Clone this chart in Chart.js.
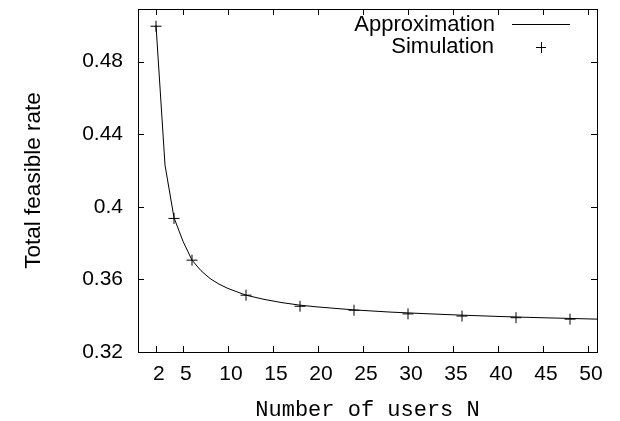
<!DOCTYPE html>
<html>
<head>
<meta charset="utf-8">
<script src="https://cdn.jsdelivr.net/npm/chart.js@4/dist/chart.umd.min.js"></script>
<style>
  html, body { margin: 0; padding: 0; background: #fff; }
  #wrap { width: 620px; height: 421px; }
</style>
</head>
<body>
<div id="wrap"><canvas id="rateChart" width="620" height="421"></canvas></div>
<script>
// values
const approxUsers = [2, 3, 4, 5, 6, 7, 8, 9, 10, 12, 14, 16, 18, 20, 24, 28, 32, 36, 40, 44, 48, 51];
const approxRate = [0.500, 0.423, 0.394, 0.381, 0.3706, 0.3648, 0.3605, 0.3574, 0.355, 0.3513, 0.349, 0.3472,
  0.3458, 0.3448, 0.3432, 0.342, 0.3411, 0.3403, 0.3396, 0.339, 0.3385, 0.3381];

const simUsers = [2, 4, 6, 12, 18, 24, 30, 36, 42, 48];
const simRate = [0.4995, 0.3936, 0.3706, 0.3513, 0.3452, 0.343, 0.341, 0.3398, 0.3389, 0.3381];

const xTicks = [2, 5, 10, 15, 20, 25, 30, 35, 40, 45, 50];
const yTicks = [0.32, 0.36, 0.4, 0.44, 0.48];

const SANS = "'Liberation Sans', Arial, Helvetica, sans-serif";
const MONO = "'Liberation Mono', 'Courier New', monospace";
const TICK_LEN = 6;

// frame + inward tick marks on all four sides, gnuplot style
const framePlugin = {
  id: "frame",
  afterDatasetsDraw(chart) {
    const { ctx, chartArea: a, scales } = chart;
    ctx.save();
    ctx.strokeStyle = "#000";
    ctx.lineWidth = 1;
    ctx.strokeRect(Math.round(a.left) + 0.5, Math.round(a.top) + 0.5,
      Math.round(a.right - a.left), Math.round(a.bottom - a.top));
    ctx.beginPath();
    xTicks.forEach((v) => {
      const px = Math.round(scales.x.getPixelForValue(v)) + 0.5;
      ctx.moveTo(px, a.bottom);
      ctx.lineTo(px, a.bottom - TICK_LEN);
      ctx.moveTo(px, a.top);
      ctx.lineTo(px, a.top + TICK_LEN);
    });
    yTicks.forEach((v) => {
      const py = Math.round(scales.y.getPixelForValue(v)) + 0.5;
      ctx.moveTo(a.left, py);
      ctx.lineTo(a.left + TICK_LEN, py);
      ctx.moveTo(a.right, py);
      ctx.lineTo(a.right - TICK_LEN, py);
    });
    ctx.stroke();
    ctx.restore();
  }
};

// legend at top right: right-aligned text, sample to its right
const keyPlugin = {
  id: "key",
  afterDraw(chart) {
    const { ctx } = chart;
    const ds = chart.data.datasets;
    ctx.save();
    ctx.font = "22px " + SANS;
    ctx.fillStyle = "#000";
    ctx.textAlign = "right";
    ctx.textBaseline = "middle";
    ctx.strokeStyle = "#000";
    ctx.lineWidth = 1;

    ctx.fillText(ds[0].label, 495, 25);
    ctx.beginPath();
    ctx.moveTo(512, 24.5);
    ctx.lineTo(570, 24.5);
    ctx.stroke();

    ctx.fillText(ds[1].label, 494, 47);
    ctx.beginPath();
    ctx.moveTo(536, 47.5);
    ctx.lineTo(546, 47.5);
    ctx.moveTo(541.5, 42);
    ctx.lineTo(541.5, 53);
    ctx.stroke();
    ctx.restore();
  }
};

new Chart(document.getElementById("rateChart"), {
  type: "line",
  data: {
    datasets: [
      {
        label: "Approximation",
        data: approxUsers.map((n, i) => ({ x: n, y: approxRate[i] })),
        borderColor: "#000",
        borderWidth: 1,
        pointRadius: 0,
        tension: 0,
        fill: false
      },
      {
        label: "Simulation",
        data: simUsers.map((n, i) => ({ x: n, y: simRate[i] })),
        showLine: false,
        pointStyle: "cross",
        pointRadius: 5.5,
        pointBorderColor: "#000",
        pointBorderWidth: 1,
        borderColor: "#000"
      }
    ]
  },
  options: {
    responsive: false,
    animation: false,
    devicePixelRatio: 1,
    layout: { padding: { top: 9, right: 23, left: 0, bottom: 0 } },
    plugins: {
      legend: { display: false },
      tooltip: { enabled: false }
    },
    scales: {
      x: {
        type: "linear",
        min: 0,
        max: 51,
        afterBuildTicks: (s) => { s.ticks = xTicks.map((v) => ({ value: v })); },
        afterFit: (s) => { s.height = 69; s.paddingLeft = 0; s.paddingRight = 0; },
        grid: { display: false, drawTicks: false },
        border: { display: false },
        ticks: {
          color: "#000",
          padding: 10,
          maxRotation: 0,
          autoSkip: false,
          font: { family: SANS, size: 21 },
          // labels sit a little right of their ticks in the original
          callback: (v) => " " + v
        },
        title: {
          display: true,
          text: "Number of users N",
          color: "#000",
          padding: { top: 0, bottom: -2 },
          font: { family: MONO, size: 22 }
        }
      },
      y: {
        min: 0.32,
        max: 0.509,
        afterBuildTicks: (s) => { s.ticks = yTicks.map((v) => ({ value: v })); },
        afterFit: (s) => { s.width = 138; s.paddingTop = 0; s.paddingBottom = 0; },
        grid: { display: false, drawTicks: false },
        border: { display: false },
        ticks: {
          color: "#000",
          padding: 15,
          autoSkip: false,
          font: { family: SANS, size: 21 },
          callback: (v) => String(Math.round(v * 100) / 100)
        },
        title: {
          display: true,
          text: "Total feasible rate",
          color: "#000",
          padding: { top: 20, bottom: 0 },
          font: { family: SANS, size: 22.5 }
        }
      }
    }
  },
  plugins: [framePlugin, keyPlugin]
});
</script>
</body>
</html>
